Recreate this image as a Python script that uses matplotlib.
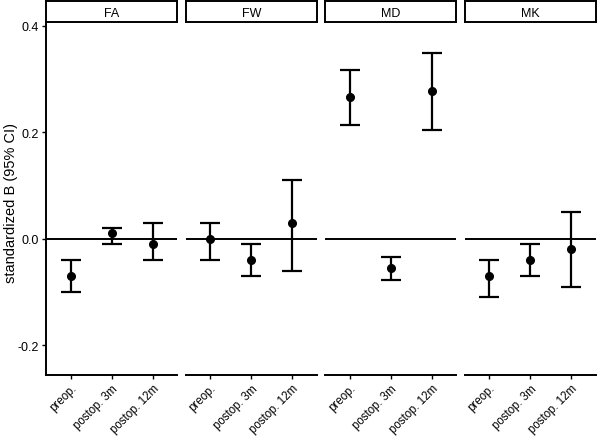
import numpy as np
import matplotlib
matplotlib.use("Agg")
import matplotlib.pyplot as plt

plt.rcParams['font.family'] = ['Liberation Sans', 'DejaVu Sans']

metrics = ["FA", "FW", "MD", "MK"]
timepoints = ["preop.", "postop. 3m", "postop. 12m"]

# estimate and 95% CI per metric, in timepoint order
est = {
    "FA": [-0.070, 0.010, -0.010],
    "FW": [0.000, -0.040, 0.030],
    "MD": [0.266, -0.054, 0.277],
    "MK": [-0.070, -0.040, -0.020],
}
lower = {
    "FA": [-0.100, -0.010, -0.040],
    "FW": [-0.040, -0.070, -0.060],
    "MD": [0.213, -0.077, 0.205],
    "MK": [-0.110, -0.070, -0.090],
}
upper = {
    "FA": [-0.040, 0.020, 0.030],
    "FW": [0.030, -0.010, 0.110],
    "MD": [0.318, -0.034, 0.349],
    "MK": [-0.040, -0.010, 0.050],
}

fig, axes = plt.subplots(1, 4, figsize=(6.0, 4.39), dpi=100, sharey=True)
fig.subplots_adjust(left=46/600, right=596/600, bottom=1-376/439, top=1-23/439, wspace=0.061)

x = np.arange(1, 4)
for ax, m in zip(axes, metrics):
    e = np.array(est[m])
    lo = np.array(lower[m])
    hi = np.array(upper[m])
    ax.axhline(0, color='black', lw=1.4, zorder=1)
    ax.errorbar(x, e, yerr=[e - lo, hi - e], fmt='o', color='black', ms=5.5,
                elinewidth=1.6, capsize=7, capthick=1.6, zorder=3)
    ax.set_xlim(0.4, 3.6)
    ax.set_ylim(-0.256, 0.4075)
    ax.set_xticks(x)
    ax.set_xticklabels(timepoints, rotation=45, ha='right', rotation_mode='anchor', fontsize=8.3)
    for s in ['top', 'right', 'left']:
        ax.spines[s].set_visible(False)
    ax.spines['bottom'].set_linewidth(1.4)
    ax.tick_params(axis='x', length=3, width=1, pad=2)
    if ax is axes[0]:
        ax.spines['left'].set_visible(True)
        ax.spines['left'].set_linewidth(1.4)
        ax.set_yticks([-0.2, 0.0, 0.2, 0.4])
        ax.set_yticklabels(["-0.2", "0.0", "0.2", "0.4"], fontsize=9)
        ax.tick_params(axis='y', length=3, width=1, pad=2)
        ax.set_ylabel("standardized B (95% CI)", fontsize=10.5)
        ax.yaxis.set_label_coords(-0.215, 0.49)
    else:
        ax.tick_params(axis='y', left=False, labelleft=False)

    # facet strip
    pos = ax.get_position()
    sax = fig.add_axes([pos.x0, pos.y1, pos.width, (23 - 2) / 439])
    sax.set_xticks([])
    sax.set_yticks([])
    for s in sax.spines.values():
        s.set_linewidth(1.4)
    sax.text(0.5, 0.45, m, ha='center', va='center', fontsize=9, transform=sax.transAxes)

fig.savefig("out.png", dpi=100)
